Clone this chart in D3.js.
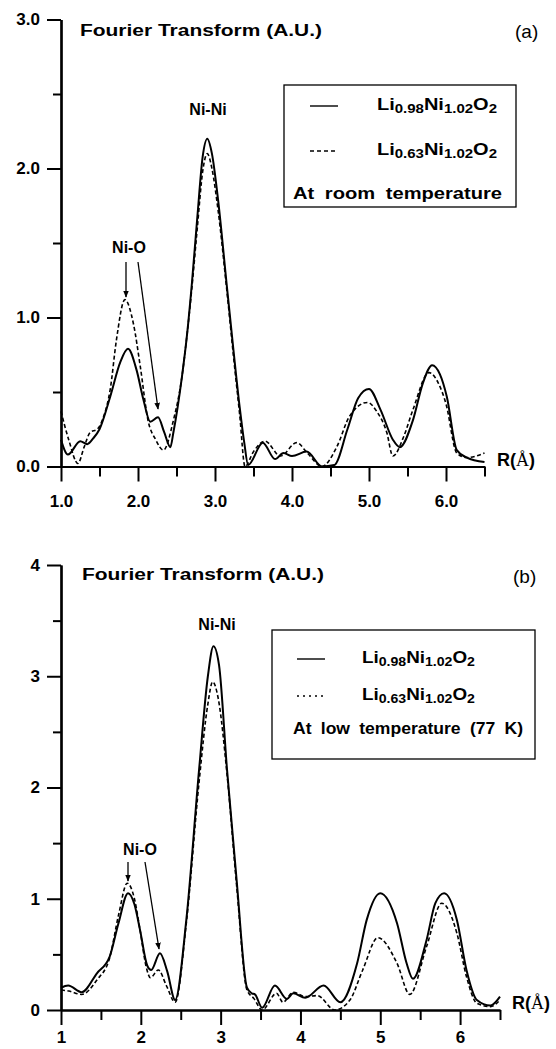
<!DOCTYPE html>
<html>
<head>
<meta charset="utf-8">
<script src="https://cdn.jsdelivr.net/npm/d3@7"></script>
<style>
  body { margin: 0; background: #fff; }
  svg { display: block; }
  text { font-family: "Liberation Sans", Arial, sans-serif; fill: #000; }
</style>
</head>
<body>
<div id="chart"></div>
<script>
// [R (Å), FT magnitude]
var roomSolid = [[1.0,0.18],[1.09,0.08],[1.25,0.17],[1.34,0.15],[1.42,0.19],[1.5,0.25],[1.64,0.47],[1.77,0.70],[1.87,0.79],[1.98,0.65],[2.07,0.45],[2.16,0.30],[2.26,0.33],[2.34,0.23],[2.42,0.13],[2.46,0.23],[2.57,0.60],[2.64,0.90],[2.70,1.23],[2.77,1.67],[2.84,2.08],[2.90,2.20],[2.96,2.10],[3.04,1.79],[3.15,1.23],[3.24,0.78],[3.32,0.40],[3.38,0.16],[3.43,0.01],[3.62,0.16],[3.78,0.05],[3.89,0.09],[4.0,0.07],[4.19,0.10],[4.39,0.0],[4.55,0.01],[4.72,0.25],[4.86,0.46],[5.0,0.52],[5.15,0.38],[5.31,0.18],[5.40,0.13],[5.57,0.31],[5.70,0.56],[5.82,0.68],[5.92,0.62],[6.01,0.47],[6.14,0.11],[6.27,0.06],[6.5,0.03]];
var roomDashed = [[1.0,0.37],[1.1,0.18],[1.22,0.02],[1.3,0.13],[1.38,0.23],[1.47,0.25],[1.55,0.33],[1.64,0.52],[1.72,0.85],[1.83,1.12],[1.94,0.96],[2.03,0.67],[2.13,0.31],[2.23,0.18],[2.33,0.11],[2.46,0.31],[2.57,0.60],[2.64,0.90],[2.70,1.20],[2.77,1.60],[2.84,1.98],[2.90,2.10],[2.96,2.00],[3.04,1.72],[3.15,1.20],[3.24,0.74],[3.32,0.35],[3.39,0.0],[3.50,0.10],[3.65,0.17],[3.85,0.07],[4.06,0.16],[4.20,0.09],[4.39,0.0],[4.58,0.13],[4.75,0.34],[4.98,0.43],[5.10,0.37],[5.23,0.23],[5.31,0.07],[5.45,0.20],[5.57,0.38],[5.78,0.63],[5.90,0.56],[6.0,0.42],[6.14,0.09],[6.27,0.06],[6.5,0.09]];
var lowSolid = [[1.0,0.20],[1.09,0.22],[1.26,0.16],[1.45,0.33],[1.61,0.48],[1.72,0.78],[1.84,1.05],[1.92,0.95],[1.99,0.72],[2.08,0.40],[2.13,0.36],[2.24,0.51],[2.33,0.35],[2.43,0.09],[2.57,0.81],[2.73,2.16],[2.84,3.0],[2.91,3.27],[2.98,3.1],[3.08,2.16],[3.20,1.17],[3.33,0.20],[3.39,0.15],[3.43,0.14],[3.52,0.02],[3.68,0.22],[3.83,0.10],[3.91,0.15],[4.06,0.11],[4.29,0.22],[4.50,0.07],[4.71,0.42],[4.83,0.81],[5.0,1.05],[5.21,0.78],[5.33,0.42],[5.41,0.28],[5.58,0.63],[5.69,0.96],[5.80,1.05],[5.96,0.81],[6.08,0.36],[6.21,0.09],[6.38,0.04],[6.5,0.12]];
var lowDashed = [[1.0,0.18],[1.1,0.17],[1.26,0.14],[1.45,0.27],[1.61,0.47],[1.72,0.85],[1.83,1.14],[1.92,1.0],[1.99,0.72],[2.07,0.38],[2.12,0.29],[2.22,0.36],[2.32,0.22],[2.43,0.07],[2.57,0.78],[2.73,2.05],[2.84,2.75],[2.90,2.95],[2.97,2.80],[3.08,2.12],[3.20,1.12],[3.33,0.18],[3.42,0.10],[3.52,0.0],[3.70,0.15],[3.78,0.07],[3.91,0.16],[4.06,0.12],[4.21,0.13],[4.43,0.0],[4.62,0.09],[4.78,0.36],[4.97,0.65],[5.21,0.42],[5.37,0.14],[5.58,0.57],[5.77,0.96],[5.96,0.69],[6.08,0.30],[6.21,0.06],[6.38,0.03],[6.5,0.09]];

var xMajor = [1, 2, 3, 4, 5, 6];
var xMinor = [1.5, 2.5, 3.5, 4.5, 5.5, 6.5];
var yMajorA = [0, 1, 2, 3];
var yMinorA = [0.5, 1.5, 2.5];
var yMajorB = [0, 1, 2, 3, 4];
var yMinorB = [0.5, 1.5, 2.5, 3.5];
var sampleNames = [["Li", "0.98", "Ni", "1.02", "O", "2"], ["Li", "0.63", "Ni", "1.02", "O", "2"]];

var svg = d3.select("#chart").append("svg")
    .attr("width", 556)
    .attr("height", 1049);

var panels = [
  {
    solid: roomSolid, dashed: roomDashed,
    xRange: [61, 484.5], yDomain: [0, 3], yRange: [466.5, 19.5],
    yMajor: yMajorA, yMinor: yMinorA, fmt: d3.format(".1f"), xLabelY: 40,
    title: [80, 36], tag: "(a)", tagPos: [515, 38],
    niNi: [208, 115], niO: [129, 253],
    arrows: [[126, 262, 126, 297], [138, 262, 158, 409]],
    rLabel: [497, 466],
    box: [284, 85, 232, 122], sampleX: [310, 338], rows: [112, 157, 199],
    textX: 377, textW: 120, note: "At room temperature", noteX: 293, noteW: 209,
    dash2: "4,3"
  },
  {
    solid: lowSolid, dashed: lowDashed,
    xRange: [61, 500], yDomain: [0, 4], yRange: [1010, 565],
    yMajor: yMajorB, yMinor: yMinorB, fmt: d3.format("d"), xLabelY: 33,
    title: [82, 580], tag: "(b)", tagPos: [513, 583],
    niNi: [217, 630], niO: [140, 855],
    arrows: [[128, 862, 128, 881], [145, 862, 159, 949]],
    rLabel: [512, 1009],
    box: [272, 630, 263, 129], sampleX: [297, 325], rows: [665, 702, 734],
    textX: 362, textW: 113, note: "At low temperature (77 K)", noteX: 293, noteW: 230,
    dash2: "2,4"
  }
];

var defs = svg.append("defs");
defs.append("marker")
    .attr("id", "arrow")
    .attr("viewBox", "0 0 10 10")
    .attr("refX", 9).attr("refY", 5)
    .attr("markerWidth", 7).attr("markerHeight", 7)
    .attr("markerUnits", "userSpaceOnUse")
    .attr("orient", "auto")
  .append("path")
    .attr("d", "M0,1 L10,5 L0,9 Z")
    .attr("fill", "#000");

panels.forEach(function(p) {
  var x = d3.scaleLinear().domain([1, 6.5]).range(p.xRange);
  var y = d3.scaleLinear().domain(p.yDomain).range(p.yRange);
  var g = svg.append("g");

  // axes
  var xAxis = g.append("g")
      .attr("transform", "translate(0," + y(0) + ")")
      .call(d3.axisBottom(x).tickValues(xMajor).tickSize(15).tickSizeOuter(0).tickFormat(p.fmt));
  g.append("g")
      .attr("transform", "translate(0," + y(0) + ")")
      .call(d3.axisBottom(x).tickValues(xMinor).tickSize(10).tickSizeOuter(0).tickFormat(""));
  g.append("g")
      .attr("transform", "translate(" + x(1) + ",0)")
      .call(d3.axisLeft(y).tickValues(p.yMajor).tickSize(14).tickSizeOuter(0).tickPadding(7).tickFormat(p.fmt));
  g.append("g")
      .attr("transform", "translate(" + x(1) + ",0)")
      .call(d3.axisLeft(y).tickValues(p.yMinor).tickSize(8).tickSizeOuter(0).tickFormat(""));
  g.selectAll(".domain").attr("stroke", "#000").attr("stroke-width", 2.2);
  g.selectAll(".tick line").attr("stroke", "#000").attr("stroke-width", 2);
  g.selectAll(".tick text")
      .style("font-family", "'Liberation Sans', Arial, sans-serif")
      .style("font-size", "17px")
      .style("font-weight", "bold");
  xAxis.selectAll(".tick text").attr("y", p.xLabelY).attr("dy", 0);

  // curves
  var line = d3.line()
      .x(function(d) { return x(d[0]); })
      .y(function(d) { return y(d[1]); })
      .curve(d3.curveMonotoneX);
  g.append("path").datum(p.solid)
      .attr("d", line).attr("fill", "none")
      .attr("stroke", "#000").attr("stroke-width", 2);
  g.append("path").datum(p.dashed)
      .attr("d", line).attr("fill", "none")
      .attr("stroke", "#000").attr("stroke-width", 1.6)
      .attr("stroke-dasharray", "4,2.5");

  // labels
  g.append("text").attr("x", p.title[0]).attr("y", p.title[1])
      .style("font-size", "16px").style("font-weight", "bold")
      .attr("textLength", 242).attr("lengthAdjust", "spacingAndGlyphs")
      .text("Fourier Transform (A.U.)");
  g.append("text").attr("x", p.tagPos[0]).attr("y", p.tagPos[1])
      .style("font-size", "19px")
      .text(p.tag);
  g.append("text").attr("x", p.niNi[0]).attr("y", p.niNi[1])
      .attr("text-anchor", "middle")
      .style("font-size", "16px").style("font-weight", "bold")
      .text("Ni-Ni");
  g.append("text").attr("x", p.niO[0]).attr("y", p.niO[1])
      .attr("text-anchor", "middle")
      .style("font-size", "16px").style("font-weight", "bold")
      .text("Ni-O");
  p.arrows.forEach(function(a) {
    g.append("line")
        .attr("x1", a[0]).attr("y1", a[1]).attr("x2", a[2]).attr("y2", a[3])
        .attr("stroke", "#000").attr("stroke-width", 1.3)
        .attr("marker-end", "url(#arrow)");
  });
  var rl = g.append("text").attr("x", p.rLabel[0]).attr("y", p.rLabel[1])
      .style("font-size", "18px").style("font-weight", "bold");
  rl.append("tspan").text("R(");
  rl.append("tspan").style("font-family", "'Liberation Serif', serif").style("font-weight", "normal").text("Å");
  rl.append("tspan").text(")");

  // legend
  g.append("rect")
      .attr("x", p.box[0]).attr("y", p.box[1])
      .attr("width", p.box[2]).attr("height", p.box[3])
      .attr("fill", "#fff").attr("stroke", "#000").attr("stroke-width", 1.3);
  [0, 1].forEach(function(i) {
    g.append("line")
        .attr("x1", p.sampleX[0]).attr("x2", p.sampleX[1])
        .attr("y1", p.rows[i] - 6).attr("y2", p.rows[i] - 6)
        .attr("stroke", "#000").attr("stroke-width", 1.4)
        .attr("stroke-dasharray", i === 0 ? null : p.dash2);
    var t = g.append("text").attr("x", p.textX).attr("y", p.rows[i] - 2)
        .attr("textLength", p.textW).attr("lengthAdjust", "spacingAndGlyphs")
        .style("font-size", "16px").style("font-weight", "bold");
    sampleNames[i].forEach(function(s, k) {
      var sub = k % 2 === 1;
      t.append("tspan")
          .attr("dy", sub ? 3 : (k === 0 ? 0 : -3))
          .style("font-size", sub ? "12px" : "16px")
          .text(s);
    });
  });
  g.append("text").attr("x", p.noteX).attr("y", p.rows[2])
      .style("font-size", "16px").style("font-weight", "bold")
      .style("word-spacing", "4px")
      .attr("textLength", p.noteW).attr("lengthAdjust", "spacingAndGlyphs")
      .text(p.note);
});
</script>
</body>
</html>
